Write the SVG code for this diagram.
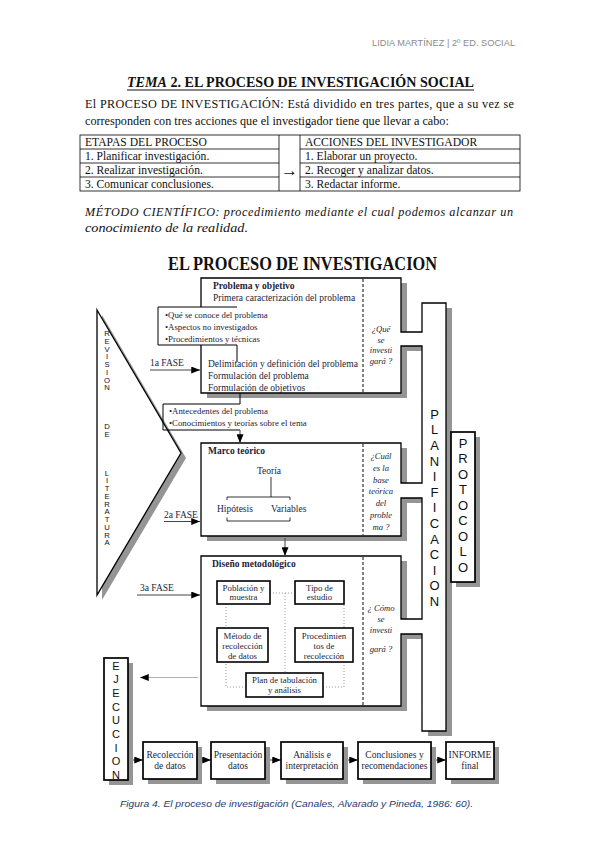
<svg xmlns="http://www.w3.org/2000/svg" width="599" height="848" viewBox="0 0 599 848">
<defs>
<style>
.serif{font-family:"Liberation Serif","Times New Roman",serif}
.sans{font-family:"Liberation Sans",Arial,sans-serif}
.body{font-family:"Liberation Serif",serif;font-size:12.2px;fill:#111}
.tb{font-family:"Liberation Serif",serif;font-size:11.6px;fill:#111}
.dg{font-family:"Liberation Serif",serif;font-size:9.5px;fill:#1c1c3a}
.sm{font-size:8.8px}
.q{font-family:"Liberation Serif",serif;font-style:italic;font-size:8.6px;fill:#1c1c3a;text-anchor:middle}
.c{text-anchor:middle}
.b{font-weight:bold}
.box{fill:#fff;stroke:#000;stroke-width:1.3}
.tbox{fill:#fff;stroke:#000;stroke-width:1.7}
.sbox{fill:#fff;stroke:#000;stroke-width:1.6}
.sh{fill:#959595}
.dash{stroke:#333;stroke-width:1.2;stroke-dasharray:3 2;fill:none}
.dot{stroke:#9a9a9a;stroke-width:1;stroke-dasharray:1 2;fill:none}
.let{font-family:"Liberation Sans",Arial,sans-serif;text-anchor:middle;fill:#111}
.ln{stroke:#000;stroke-width:0.8;fill:none}
.arr{stroke:#444;stroke-width:1;fill:none;marker-end:url(#ah)}
</style>
<marker id="ah" viewBox="0 0 10 8" refX="10" refY="4" markerWidth="9" markerHeight="7" markerUnits="userSpaceOnUse" orient="auto">
<path d="M0,0 L10,4 L0,8 Z" fill="#000"/>
</marker>
</defs>
<rect width="599" height="848" fill="#fff"/>

<g id="header">
<text x="515" y="46" text-anchor="end" class="sans" font-size="9.2" fill="#8a8a8a" textLength="143" lengthAdjust="spacing">LIDIA MARTÍNEZ | 2º ED. SOCIAL</text>
</g>

<g id="title">
<text x="127" y="87" class="serif" font-size="15.5" font-weight="bold" fill="#111" textLength="347" lengthAdjust="spacingAndGlyphs"><tspan font-style="italic">TEMA</tspan> 2. EL PROCESO DE INVESTIGACIÓN SOCIAL</text>
<line x1="127" y1="90" x2="474" y2="90" stroke="#111" stroke-width="1"/>
</g>

<g id="intro">
<text x="85" y="108" class="body" textLength="429" lengthAdjust="spacing">El PROCESO DE INVESTIGACIÓN: Está dividido en tres partes, que a su vez se</text>
<text x="85" y="125" class="body">corresponden con tres acciones que el investigador tiene que llevar a cabo:</text>
</g>

<g id="table">
<rect x="80" y="135" width="440" height="56" class="ln"/>
<line x1="279" y1="135" x2="279" y2="191" class="ln"/>
<line x1="300" y1="135" x2="300" y2="191" class="ln"/>
<path d="M80,149H279M80,163H279M80,177H279M300,149H520M300,163H520M300,177H520" class="ln"/>
<text x="85" y="146" class="tb">ETAPAS DEL PROCESO</text>
<text x="85" y="160" class="tb">1. Planificar investigación.</text>
<text x="85" y="174" class="tb">2. Realizar investigación.</text>
<text x="85" y="188" class="tb">3. Comunicar conclusiones.</text>
<text x="289.5" y="176" text-anchor="middle" font-family="'Liberation Serif','DejaVu Serif',serif" font-size="17" fill="#111">→</text>
<text x="305" y="146" class="tb">ACCIONES DEL INVESTIGADOR</text>
<text x="305" y="160" class="tb">1. Elaborar un proyecto.</text>
<text x="305" y="174" class="tb">2. Recoger y analizar datos.</text>
<text x="305" y="188" class="tb">3. Redactar informe.</text>
</g>

<g id="metodo">
<text x="85" y="216" class="body" font-style="italic" textLength="428" lengthAdjust="spacing">MÉTODO CIENTÍFICO: procedimiento mediante el cual podemos alcanzar un</text>
<text x="85" y="232" class="body" font-style="italic" textLength="163" lengthAdjust="spacingAndGlyphs">conocimiento de la realidad.</text>
</g>

<g id="diagram-title">
<text x="168" y="270" class="serif" font-size="18" font-weight="bold" fill="#111" textLength="269" lengthAdjust="spacingAndGlyphs">EL PROCESO DE INVESTIGACION</text>
</g>

<g id="revision">
<polygon points="97,310 181,453 97,595" class="sh" transform="translate(5,5)"/>
<polygon points="97,310 181,453 97,595" class="box"/>
<text class="let" font-size="7.7"><tspan x="107" y="336">R</tspan><tspan x="107" y="343.8">E</tspan><tspan x="107" y="351.5">V</tspan><tspan x="107" y="359.3">I</tspan><tspan x="107" y="367">S</tspan><tspan x="107" y="374.8">I</tspan><tspan x="107" y="382.5">O</tspan><tspan x="107" y="390.3">N</tspan><tspan x="107" y="429">D</tspan><tspan x="107" y="436.8">E</tspan><tspan x="107" y="475.5">L</tspan><tspan x="107" y="483.3">I</tspan><tspan x="107" y="491">T</tspan><tspan x="107" y="498.8">E</tspan><tspan x="107" y="506.5">R</tspan><tspan x="107" y="514.3">A</tspan><tspan x="107" y="522">T</tspan><tspan x="107" y="529.8">U</tspan><tspan x="107" y="537.5">R</tspan><tspan x="107" y="545.3">A</tspan></text>
</g>

<g id="main-frame">
<path class="sh" transform="translate(6,5)" d="M201,278H401V332H422V303H446V731H422V634H401V706H201V556H401V619H422V498H401V536H201V443H401V483H422V346H401V393H201Z"/>
<path class="box" d="M201,278H401V332H422V303H446V731H422V634H401V706H201V556H401V619H422V498H401V536H201V443H401V483H422V346H401V393H201Z"/>
<line x1="363" y1="279" x2="363" y2="392" class="dash"/>
<line x1="363" y1="444" x2="363" y2="535" class="dash"/>
<line x1="363" y1="557" x2="363" y2="705" class="dash"/>
</g>

<g id="planificacion">
<text class="let" font-size="13"><tspan x="434.5" y="418.7">P</tspan><tspan x="434.5" y="434.3">L</tspan><tspan x="434.5" y="449.9">A</tspan><tspan x="434.5" y="465.5">N</tspan><tspan x="434.5" y="481.1">I</tspan><tspan x="434.5" y="496.7">F</tspan><tspan x="434.5" y="512.3">I</tspan><tspan x="434.5" y="527.9">C</tspan><tspan x="434.5" y="543.5">A</tspan><tspan x="434.5" y="559.1">C</tspan><tspan x="434.5" y="574.7">I</tspan><tspan x="434.5" y="590.3">O</tspan><tspan x="434.5" y="605.9">N</tspan></text>
</g>

<g id="protocolo">
<rect x="456" y="437" width="24" height="150" class="sh"/>
<rect x="451" y="432" width="24" height="150" class="tbox"/>
<text class="let" font-size="13"><tspan x="463" y="447.7">P</tspan><tspan x="463" y="463.2">R</tspan><tspan x="463" y="478.7">O</tspan><tspan x="463" y="494.2">T</tspan><tspan x="463" y="509.7">O</tspan><tspan x="463" y="525.2">C</tspan><tspan x="463" y="540.7">O</tspan><tspan x="463" y="556.2">L</tspan><tspan x="463" y="571.7">O</tspan></text>
</g>

<g id="problema">
<text x="213" y="289" class="dg b">Problema y objetivo</text>
<text x="213" y="301" class="dg">Primera caracterización del problema</text>
<text x="208" y="367" class="dg">Delimitación y definición del problema</text>
<text x="208" y="379" class="dg">Formulación del problema</text>
<text x="208" y="391" class="dg">Formulación de objetivos</text>
<text class="q"><tspan x="381" y="332">¿Qué</tspan><tspan x="381" y="342.5">se</tspan><tspan x="381" y="353">investi</tspan><tspan x="381" y="364">gará ?</tspan></text>
</g>

<g id="que-se-conoce">
<rect x="158" y="307" width="120" height="38" fill="#fff"/>
<path d="M237,307H158V345H237V362" fill="none" stroke="#000" stroke-width="1"/>
<text x="165" y="318" class="dg sm">•Qué se conoce del problema</text>
<text x="165" y="330" class="dg sm">•Aspectos no investigados</text>
<text x="165" y="342" class="dg sm">•Procedimientos y técnicas</text>
</g>

<g id="antecedentes">
<path d="M240,404H163V430H240" fill="none" stroke="#000" stroke-width="1"/>
<text x="169" y="414" class="dg sm">•Antecedentes del problema</text>
<text x="169" y="426" class="dg sm">•Conocimientos y teorías sobre el tema</text>
</g>

<g id="marco">
<text x="208" y="454" class="dg b">Marco teórico</text>
<text x="269" y="474" class="dg c">Teoría</text>
<path d="M271,477V497M227,500V497H290V500M227,517.5V521H290V517.5" class="ln"/>
<text x="217" y="512" class="dg">Hipótesis</text>
<text x="271" y="512" class="dg">Variables</text>
<text class="q"><tspan x="381" y="459">¿Cuál</tspan><tspan x="381" y="470.8">es la</tspan><tspan x="381" y="482.6">base</tspan><tspan x="381" y="494.4">teórica</tspan><tspan x="381" y="506.2">del</tspan><tspan x="381" y="518">proble</tspan><tspan x="381" y="529.8">ma ?</tspan></text>
</g>

<g id="diseno">
<text x="212" y="567" class="dg b">Diseño metodológico</text>
<text class="q"><tspan x="381" y="611">¿ Cómo</tspan><tspan x="381" y="622">se</tspan><tspan x="381" y="633">investi</tspan><tspan x="381" y="652">gará ?</tspan></text>
</g>

<g id="connectors">
<path d="M226,604V687H344V604M270,593H295M285,593V673" class="dot"/>
<line x1="240" y1="393" x2="240" y2="404" stroke="#000" stroke-width="1"/>
<line x1="240" y1="430" x2="240" y2="443" class="arr" stroke="#000"/>
<line x1="285" y1="538" x2="285" y2="556" class="arr"/>
<line x1="150" y1="370" x2="200" y2="370" class="arr"/>
<line x1="164" y1="521.5" x2="200" y2="521.5" class="arr"/>
<line x1="137" y1="595" x2="200" y2="595" class="arr"/>
<line x1="198" y1="677.5" x2="140" y2="677.5" stroke="#b0b0b0" stroke-width="1" marker-end="url(#ah)"/>
<line x1="128" y1="760" x2="143" y2="760" class="arr"/>
<line x1="197" y1="760" x2="211" y2="760" class="arr"/>
<line x1="265" y1="760" x2="281" y2="760" class="arr"/>
<line x1="343" y1="760" x2="358" y2="760" class="arr"/>
<line x1="431" y1="760" x2="446" y2="760" class="arr"/>
</g>

<g id="fases">
<text x="150" y="366" class="dg">1a FASE</text>
<text x="164" y="518" class="dg">2a FASE</text>
<text x="140" y="591" class="dg">3a FASE</text>
</g>

<g id="poblacion">
<rect x="217" y="581" width="53" height="23" class="sbox"/>
<text class="dg sm c"><tspan x="243.5" y="590.5">Población y</tspan><tspan x="243.5" y="600">muestra</tspan></text>
</g>
<g id="tipo">
<rect x="295" y="581" width="49" height="23" class="sbox"/>
<text class="dg sm c"><tspan x="319.5" y="590.5">Tipo de</tspan><tspan x="319.5" y="600">estudio</tspan></text>
</g>
<g id="metodo-recoleccion">
<rect x="217" y="628" width="51" height="34" class="sbox"/>
<text class="dg sm c"><tspan x="242.5" y="638.5">Método de</tspan><tspan x="242.5" y="648.5">recolección</tspan><tspan x="242.5" y="658.5">de datos</tspan></text>
</g>
<g id="procedimientos">
<rect x="295" y="628" width="58" height="34" class="sbox"/>
<text class="dg sm c"><tspan x="324" y="638.5">Procedimien</tspan><tspan x="324" y="648.5">tos de</tspan><tspan x="324" y="658.5">recolección</tspan></text>
</g>
<g id="plan">
<rect x="246" y="673" width="77" height="24" class="sbox"/>
<text class="dg sm c"><tspan x="284.5" y="683">Plan de tabulación</tspan><tspan x="284.5" y="693">y análisis</tspan></text>
</g>

<g id="ejecucion">
<rect x="109" y="663" width="24" height="122" class="sh"/>
<rect x="104" y="658" width="24" height="122" class="tbox"/>
<text class="let" font-size="11"><tspan x="116" y="669.5">E</tspan><tspan x="116" y="683.2">J</tspan><tspan x="116" y="696.9">E</tspan><tspan x="116" y="710.6">C</tspan><tspan x="116" y="724.3">U</tspan><tspan x="116" y="738">C</tspan><tspan x="116" y="751.7">I</tspan><tspan x="116" y="765.4">O</tspan><tspan x="116" y="779.1">N</tspan></text>
</g>

<g id="recoleccion">
<rect x="148" y="747" width="54" height="37" class="sh"/>
<rect x="143" y="742" width="54" height="37" class="tbox"/>
<text class="dg c" font-size="10"><tspan x="170" y="757.5">Recolección</tspan><tspan x="170" y="768.5">de datos</tspan></text>
</g>
<g id="presentacion">
<rect x="216" y="747" width="54" height="37" class="sh"/>
<rect x="211" y="742" width="54" height="37" class="tbox"/>
<text class="dg c" font-size="10"><tspan x="238" y="757.5">Presentación</tspan><tspan x="238" y="768.5">datos</tspan></text>
</g>
<g id="analisis">
<rect x="286" y="747" width="62" height="37" class="sh"/>
<rect x="281" y="742" width="62" height="37" class="tbox"/>
<text class="dg c" font-size="10"><tspan x="312" y="757.5">Análisis e</tspan><tspan x="312" y="768.5">interpretación</tspan></text>
</g>
<g id="conclusiones">
<rect x="363" y="747" width="73" height="37" class="sh"/>
<rect x="358" y="742" width="73" height="37" class="tbox"/>
<text class="dg c" font-size="10"><tspan x="394.5" y="757.5">Conclusiones y</tspan><tspan x="394.5" y="768.5">recomendaciones</tspan></text>
</g>
<g id="informe">
<rect x="451" y="747" width="48" height="37" class="sh"/>
<rect x="446" y="742" width="48" height="37" class="tbox"/>
<text class="dg c" font-size="10"><tspan x="470" y="757.5">INFORME</tspan><tspan x="470" y="768.5">final</tspan></text>
</g>

<g id="caption">
<text x="120" y="807" class="sans" font-style="italic" font-size="9.5" fill="#1f3a6e" textLength="353" lengthAdjust="spacingAndGlyphs">Figura 4. El proceso de investigación (Canales, Alvarado y Pineda, 1986: 60).</text>
</g>
</svg>
